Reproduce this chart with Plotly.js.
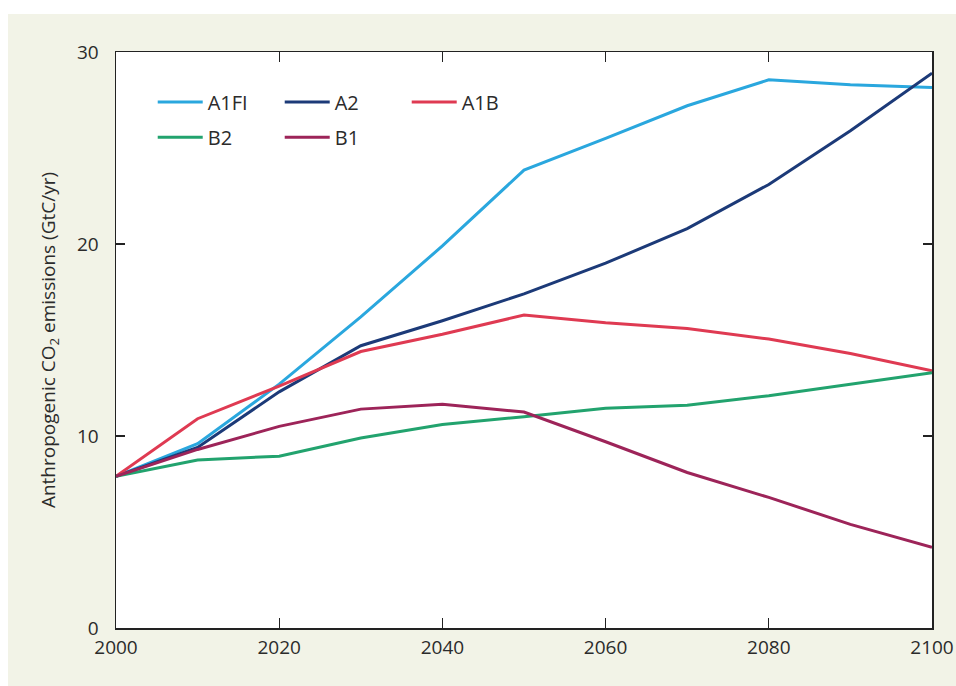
<!DOCTYPE html>
<html>
<head>
<meta charset="utf-8">
<script src="https://cdn.plot.ly/plotly-3.0.1.min.js"></script>
<style>
  html, body { margin: 0; padding: 0; background: #ffffff; width: 956px; height: 686px; overflow: hidden; }
  #chart { position: absolute; left: 8px; top: 14px; width: 948px; height: 672px; }
</style>
</head>
<body>
<div id="chart"></div>
<script>
const years = [2000, 2010, 2020, 2030, 2040, 2050, 2060, 2070, 2080, 2090, 2100];
const A1FI = [7.9, 9.6, 12.7, 16.2, 19.9, 23.85, 25.5, 27.2, 28.55, 28.3, 28.15];
const A2   = [7.9, 9.4, 12.3, 14.7, 16.0, 17.4, 19.0, 20.8, 23.1, 25.9, 28.9];
const A1B  = [7.9, 10.9, 12.6, 14.4, 15.3, 16.3, 15.9, 15.6, 15.05, 14.3, 13.4];
const B2   = [7.9, 8.75, 8.95, 9.9, 10.6, 11.0, 11.45, 11.6, 12.1, 12.7, 13.3];
const B1   = [7.9, 9.3, 10.5, 11.4, 11.65, 11.25, 9.7, 8.1, 6.8, 5.4, 4.2];
const seriesNames = ["A1FI", "A2", "A1B", "B2", "B1"];
const xTicks = [2000, 2020, 2040, 2060, 2080, 2100];
const yTicks = [0, 10, 20, 30];

const colors = {A1FI: "#2aa7de", A2: "#1c3a78", A1B: "#df3a52", B2: "#22a36e", B1: "#9d2459"};
const dataMap = {A1FI, A2, A1B, B2, B1};
const legendOf = {A1FI: "legend", A2: "legend", A1B: "legend", B2: "legend2", B1: "legend2"};

const traces = seriesNames.map(n => ({
  x: years, y: dataMap[n], name: n, type: "scatter", mode: "lines",
  line: {color: colors[n], width: 3},
  legend: legendOf[n]
}));

const fnt = {family: "Open Sans, Noto Sans, sans-serif", size: 19, color: "#2b2b2b"};
const legendCommon = {
  orientation: "h", xref: "paper", yref: "paper", xanchor: "left", yanchor: "middle",
  bgcolor: "rgba(0,0,0,0)", borderwidth: 0,
  font: {family: "Open Sans, Noto Sans, sans-serif", size: 20, color: "#2b2b2b"},
  entrywidth: 67, entrywidthmode: "pixels", tracegroupgap: 0, itemwidth: 45
};

const layout = {
  width: 948, height: 672,
  paper_bgcolor: "#f2f3e7",
  plot_bgcolor: "#ffffff",
  margin: {l: 108, r: 24, t: 38, b: 58},
  showlegend: true,
  legend: Object.assign({}, legendCommon, {x: 0.045, y: 0.913}),
  legend2: Object.assign({}, legendCommon, {x: 0.045, y: 0.852}),
  xaxis: {
    range: [2000, 2100], tickvals: xTicks, ticktext: xTicks.map(String),
    ticks: "inside", ticklen: 10, tickcolor: "#222", tickwidth: 1.2,
    showline: true, linecolor: "#222", linewidth: 1.5, mirror: "ticks",
    showgrid: false, zeroline: false, tickfont: fnt, ticklabelstandoff: 2
  },
  yaxis: {
    range: [0, 30], tickvals: yTicks, ticktext: yTicks.map(String),
    ticks: "inside", ticklen: 9, tickcolor: "#222", tickwidth: 1.2,
    showline: true, linecolor: "#222", linewidth: 1.5, mirror: "ticks",
    showgrid: false, zeroline: false, tickfont: fnt, ticklabelstandoff: 12,
    title: {text: "Anthropogenic CO<sub>2</sub> emissions (GtC/yr)", font: fnt, standoff: 16}
  }
};

Plotly.newPlot("chart", traces, layout, {displayModeBar: false, staticPlot: true});
</script>
</body>
</html>
